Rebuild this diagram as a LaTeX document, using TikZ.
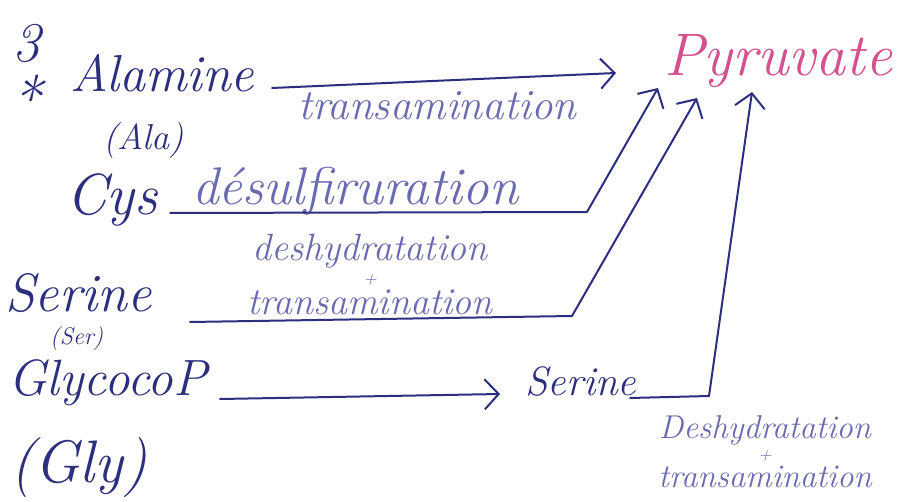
\documentclass[tikz,border=0pt]{standalone}
\usetikzlibrary{arrows.meta}
\definecolor{ink}{HTML}{2B2F7E}
\definecolor{pencil}{HTML}{6A6AB2}
\definecolor{rose}{HTML}{D4508E}
\newcommand\hand[1]{\fontsize{#1}{#1}\selectfont\itshape}
\newcommand\plussign{{\fontsize{18}{18}\selectfont +}}
\tikzset{
  word/.style={inner sep=0pt, anchor=base west, text=ink},
  note/.style={inner sep=0pt, anchor=base west, text=pencil},
  stack/.style={inner sep=0pt, anchor=north, align=center, text=pencil},
  link/.style={draw=ink, line width=2pt, line cap=round, line join=round},
  tip/.style={-{Straight Barb[length=14pt,width=30pt]}},
}
\begin{document}
\begin{tikzpicture}[x=1pt,y=-1pt]
\useasboundingbox (0,0) rectangle (901,502);
\fill[white] (0,0) rectangle (901,502);

% numbering mark
\node[word] (num) at (12,62) {\hand{56}{3}};
\node[word] (star) at (10,122) {\hand{62}{*}};

% substrates
\node[word] (ala) at (70,92) {\hand{52}{Alamine}};
\node[word] (alaab) at (103,150) {\hand{36}{(Ala)}};
\node[word] (cys) at (66,215) {\hand{58}{Cys}};
\node[word] (ser) at (5,312) {\hand{54}{Serine}};
\node[word] (serab) at (50,344) {\hand{24}{(Ser)}};
\node[word] (gly) at (8,395) {\hand{51}{GlycocoP}};
\node[word] (glyab) at (10,482) {\hand{60}{(Gly)}};
\node[word] (ser2) at (525,395) {\hand{41}{Serine}};

% product
\node[word, text=rose] (pyr) at (664,76) {\hand{60}{Pyruvate}};

% reaction labels
\node[note] (l1) at (298,120) {\hand{43}{transamination}};
\node[note] (l2) at (192,205) {\hand{53}{désulfiruration}};
\node[stack, font=\hand{38}] (l3) at (370,234)
  {deshydratation\\[-14pt]\plussign\\[-8pt]transamination};
\node[stack, font=\hand{33}] (l4) at (765,415)
  {Deshydratation\\[-11pt]\plussign\\[-6pt]transamination};

% connector ends
\coordinate (alaS) at (272,88);
\coordinate (alaT) at (616,73);
\coordinate (cysS) at (170,213);
\coordinate (cysK) at (587,212);
\coordinate (cysT) at (658,88);
\coordinate (serS) at (190,322);
\coordinate (serK) at (572,316);
\coordinate (serT) at (697,98);
\coordinate (glyS) at (220,399);
\coordinate (glyT) at (500,394);
\coordinate (ser2S) at (630,398);
\coordinate (ser2K) at (709,396);
\coordinate (ser2T) at (752,92);

% connectors
\draw[link, tip] (alaS) -- (alaT);
\draw[link, tip] (cysS) -- (cysK) -- (cysT);
\draw[link, tip] (serS) -- (serK) -- (serT);
\draw[link, tip] (glyS) -- (glyT);
\draw[link, tip] (ser2S) -- (ser2K) -- (ser2T);
\end{tikzpicture}
\end{document}
